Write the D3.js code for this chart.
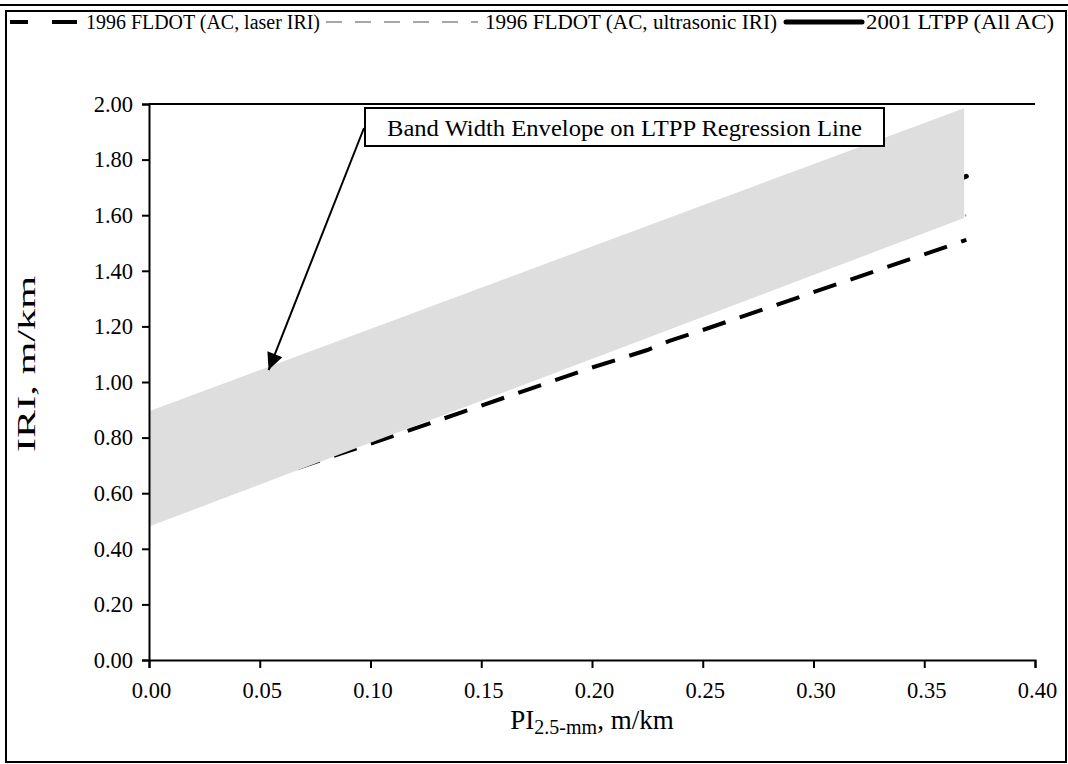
<!DOCTYPE html>
<html>
<head>
<meta charset="utf-8">
<script src="https://cdn.jsdelivr.net/npm/d3@7"></script>
<style>
  body { margin: 0; background: #fff; }
  svg { display: block; }
  text { font-family: "Liberation Serif", "Times New Roman", serif; fill: #000; }
</style>
</head>
<body>
<svg id="chart" width="1068" height="764"></svg>
<script>
// ---- data ----
const xTicks = [0, 0.05, 0.10, 0.15, 0.20, 0.25, 0.30, 0.35, 0.40];
const yTicks = [0, 0.2, 0.4, 0.6, 0.8, 1.0, 1.2, 1.4, 1.6, 1.8, 2.0];

// 1996 FLDOT, AC pavements, laser IRI
const laserPI  = [0.00, 0.05, 0.10, 0.15, 0.20, 0.225, 0.235, 0.25, 0.30, 0.369];
const laserIRI = [0.51, 0.645, 0.778, 0.915, 1.052, 1.115, 1.148, 1.187, 1.323, 1.511];

// 1996 FLDOT, AC pavements, ultrasonic IRI
const ultraPI  = [0.00, 0.369];
const ultraIRI = [0.62, 1.60];

// 2001 LTPP regression, all AC pavements
const ltppPI  = [0.00, 0.369];
const ltppIRI = [0.63, 1.74];

// envelope around the LTPP regression line
const bandPI   = [0.00, 0.368];
const bandLow  = [0.48, 1.59];
const bandHigh = [0.895, 1.985];

const seriesNames = [
  "1996 FLDOT (AC, laser IRI)",
  "1996 FLDOT (AC, ultrasonic IRI)",
  "2001 LTPP (All AC)"
];
const noteText = "Band Width Envelope on LTPP Regression Line";
const notePoint = [0.054, 1.043];   // where the arrow points

// ---- layout ----
const W = 1068, H = 764;
const plot = { left: 149, right: 1035, top: 104, bottom: 660 };

const svg = d3.select("#chart");
const x = d3.scaleLinear().domain([0, 0.40]).range([plot.left, plot.right]);
const y = d3.scaleLinear().domain([0, 2.0]).range([plot.bottom, plot.top]);

svg.append("defs").append("clipPath").attr("id", "plotClip")
  .append("rect").attr("x", plot.left).attr("y", plot.top)
  .attr("width", plot.right - plot.left).attr("height", plot.bottom - plot.top);

// outer chart frame
svg.append("line").attr("x1", 0).attr("x2", W).attr("y1", 5).attr("y2", 5)
  .attr("stroke", "#000").attr("stroke-width", 2);
svg.append("rect").attr("x", 6).attr("y", 11).attr("width", 1060).attr("height", 751)
  .attr("fill", "none").attr("stroke", "#000").attr("stroke-width", 2);

// plot area top edge
svg.append("line").attr("x1", plot.left).attr("x2", plot.right)
  .attr("y1", plot.top).attr("y2", plot.top).attr("stroke", "#000").attr("stroke-width", 2);

const lineGen = d3.line().x(d => x(d[0])).y(d => y(d[1]));
const zip = (a, b) => a.map((v, i) => [v, b[i]]);

const series = svg.append("g").attr("clip-path", "url(#plotClip)");
// ultrasonic (grey dashed)
series.append("path").attr("d", lineGen(zip(ultraPI, ultraIRI)))
  .attr("fill", "none").attr("stroke", "#a6a6a6").attr("stroke-width", 2)
  .attr("stroke-dasharray", "12,8");
// LTPP (thick black)
series.append("path").attr("d", lineGen(zip(ltppPI, ltppIRI)))
  .attr("fill", "none").attr("stroke", "#000").attr("stroke-width", 5)
  .attr("stroke-linecap", "round");
// laser (black dashed)
series.append("path").attr("d", lineGen(zip(laserPI, laserIRI)))
  .attr("fill", "none").attr("stroke", "#000").attr("stroke-width", 4)
  .attr("stroke-dasharray", "24,15");

// envelope band drawn over the lines
const area = d3.area().x(d => x(d[0])).y0(d => y(d[1])).y1(d => y(d[2]));
series.append("path")
  .attr("d", area(bandPI.map((v, i) => [v, bandLow[i], bandHigh[i]])))
  .attr("fill", "#dedede");

// axes
const yAxis = svg.append("g").attr("transform", `translate(${plot.left},0)`)
  .call(d3.axisLeft(y).tickValues(yTicks).tickFormat(d3.format(".2f")).tickSizeOuter(0).tickSize(7).tickPadding(9));
const xAxis = svg.append("g").attr("transform", `translate(0,${plot.bottom})`)
  .call(d3.axisBottom(x).tickValues(xTicks).tickFormat(d3.format(".2f")).tickSizeOuter(0).tickSize(8).tickPadding(14));
[yAxis, xAxis].forEach(g => {
  g.select(".domain").attr("stroke", "#000").attr("stroke-width", 2);
  g.selectAll(".tick line").attr("stroke", "#000").attr("stroke-width", 2);
  g.selectAll(".tick text").style("font-family", '"Liberation Serif", serif')
    .style("font-size", "22.5px").attr("fill", "#000");
});
xAxis.selectAll(".tick text").attr("dx", 2);

// axis titles
svg.append("text").attr("transform", "translate(35,364) rotate(-90)")
  .attr("text-anchor", "middle").style("font-size", "25px")
  .attr("textLength", 176).attr("lengthAdjust", "spacingAndGlyphs")
  .text("IRI, m/km");
const xt = svg.append("text").attr("x", 592).attr("y", 729)
  .attr("text-anchor", "middle").style("font-size", "27px");
xt.append("tspan").text("PI");
xt.append("tspan").attr("dy", 5).style("font-size", "20px").text("2.5-mm");
xt.append("tspan").attr("dy", -5).text(", m/km");

// annotation box + arrow
const box = { x: 365, y: 108, w: 519, h: 38 };
svg.append("rect").attr("x", box.x).attr("y", box.y).attr("width", box.w).attr("height", box.h)
  .attr("fill", "#fff").attr("stroke", "#000").attr("stroke-width", 2);
svg.append("text").attr("x", box.x + 22).attr("y", box.y + 28)
  .style("font-size", "24px")
  .attr("textLength", 475).attr("lengthAdjust", "spacingAndGlyphs")
  .text(noteText);

const tip = [x(notePoint[0]), y(notePoint[1])];
const start = [box.x - 1, box.y + 20];
svg.append("line").attr("x1", start[0]).attr("y1", start[1])
  .attr("x2", tip[0]).attr("y2", tip[1])
  .attr("stroke", "#000").attr("stroke-width", 2);
{
  const dx = tip[0] - start[0], dy = tip[1] - start[1];
  const len = Math.hypot(dx, dy), ux = dx / len, uy = dy / len;
  const hl = 17, hw = 8;
  const bx = tip[0] - ux * hl, by = tip[1] - uy * hl;
  svg.append("path")
    .attr("d", `M${tip[0]},${tip[1]}L${bx - uy * hw},${by + ux * hw}L${bx + uy * hw},${by - ux * hw}Z`)
    .attr("fill", "#000");
}

// legend
const legend = svg.append("g").attr("transform", "translate(0,22)");
const legItems = [
  { name: seriesNames[0], x1: 10, x2: 77, tx: 86, len: 234, stroke: "#000", w: 4, dash: "18,24,25" },
  { name: seriesNames[1], x1: 326, x2: 478, tx: 485, len: 292, stroke: "#a6a6a6", w: 2, dash: "16,13" },
  { name: seriesNames[2], x1: 786, x2: 862, tx: 866, len: 188, stroke: "#000", w: 5, dash: null, cap: "round" }
];
legItems.forEach(it => {
  const l = legend.append("line").attr("x1", it.x1).attr("x2", it.x2).attr("y1", 0).attr("y2", 0)
    .attr("stroke", it.stroke).attr("stroke-width", it.w);
  if (it.dash) l.attr("stroke-dasharray", it.dash);
  if (it.cap) l.attr("stroke-linecap", it.cap);
  legend.append("text").attr("x", it.tx).attr("y", 7).style("font-size", "20.5px")
    .attr("textLength", it.len).attr("lengthAdjust", "spacingAndGlyphs")
    .text(it.name);
});
</script>
</body>
</html>
